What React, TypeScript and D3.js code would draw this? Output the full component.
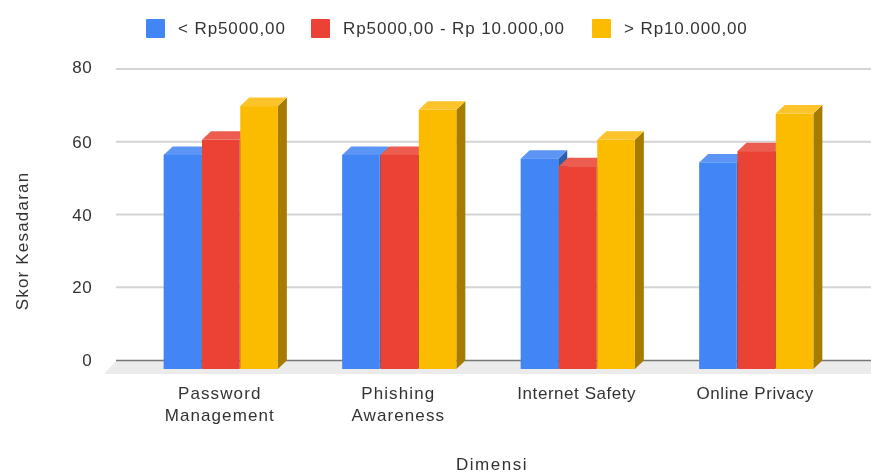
import React from "react";
import * as d3 from "d3";

const categories = [["Password", "Management"], ["Phishing", "Awareness"], ["Internet Safety"], ["Online Privacy"]];
const seriesNames = ["< Rp5000,00", "Rp5000,00 - Rp 10.000,00", "> Rp10.000,00"];
const low = [57, 57, 56, 55];
const mid = [61, 57, 54, 58];
const high = [70, 69, 61, 68];
const ticks = [0, 20, 40, 60, 80];
const fronts = ["#4285f4", "#ea4335", "#fbbc04"];
const tops = ["#5b95f5", "#ec5c50", "#fcc42a"];
const sides = ["#2e5dab", "#a42f25", "#a67c03"];
const legendX = [146, 311, 592];

const W = 871, H = 474;
const DX = 9, DY = 8.5;
const font = "'Liberation Sans', Arial, sans-serif";
const textCol = "#333";

export default function App() {
  const series = [low, mid, high];
  const yGrid = d3.scaleLinear().domain([0, 80]).range([360, 69]);
  const yFront = d3.scaleLinear().domain([0, 80]).range([369, 68.5]);
  const x0 = d3.scaleBand<number>().domain([0, 1, 2, 3]).range([131, 845]);
  const bw = 37.6;
  const gap = 0.7;
  return (
    <svg width={W} height={H} style={{ position: "fixed", left: 0, top: 0 }} fontFamily={font}>
      <defs>
        <filter id="soft" x="-2%" y="-2%" width="104%" height="104%">
          <feGaussianBlur stdDeviation="0.5" />
        </filter>
      </defs>
      <g filter="url(#soft)">
        <rect width={W} height={H} fill="#fff" />
        {legendX.map((x, i) => (
          <g key={i}>
            <rect x={x} y={19} width={19} height={19} rx={1} fill={fronts[i]} />
            <text x={x + 32} y={34} fontSize={17} fill={textCol} letterSpacing={0.9}>{seriesNames[i]}</text>
          </g>
        ))}
        <path d={`M104,374 L116,361 L${W},361 L${W},374 Z`} fill="#ebebeb" />
        {ticks.map((t) => (
          <g key={t}>
            {t > 0 && <line x1={116} x2={W} y1={yGrid(t)} y2={yGrid(t)} stroke="#d4d4d4" strokeWidth={1.8} />}
            <text x={92} y={yGrid(t) + 6 - (t === 80 ? 2 : 0)} textAnchor="end" fontSize={17} fill={textCol} letterSpacing={0.4}>{t}</text>
          </g>
        ))}
        <line x1={116} x2={W} y1={360.5} y2={360.5} stroke="#777" strokeWidth={1.6} />
        {categories.map((cat, c) =>
          [0, 1, 2].map((s) => {
            const v = series[s][c];
            const cx = (x0(c) as number) + x0.bandwidth() / 2 + 0.5;
            const x = cx - 1.5 * bw - gap + s * (bw + gap);
            const y = yFront(v);
            const b = yFront(0);
            return (
              <g key={s}>
                <path d={`M${x + bw},${y} l${DX},${-DY} V${b - DY} l${-DX},${DY} Z`} fill={sides[s]} />
                <path d={`M${x},${y} l${DX},${-DY} h${bw} l${-DX},${DY} Z`} fill={tops[s]} />
                <rect x={x} y={y} width={bw} height={b - y} fill={fronts[s]} />
              </g>
            );
          })
        )}
        {categories.map((cat, c) => {
          const cx = (x0(c) as number) + x0.bandwidth() / 2 - 0.5;
          return cat.map((l, i) => (
            <text key={l} x={cx} y={399 + i * 22} textAnchor="middle" fontSize={17} fill={textCol} letterSpacing={cat.length > 1 ? 1.1 : 0.55}>{l}</text>
          ));
        })}
        <text x={492} y={470} textAnchor="middle" fontSize={17} fill={textCol} letterSpacing={1.5}>Dimensi</text>
        <text transform="translate(28,241) rotate(-90)" textAnchor="middle" fontSize={17} fill={textCol} letterSpacing={1.2}>Skor Kesadaran</text>
      </g>
    </svg>
  );
}
